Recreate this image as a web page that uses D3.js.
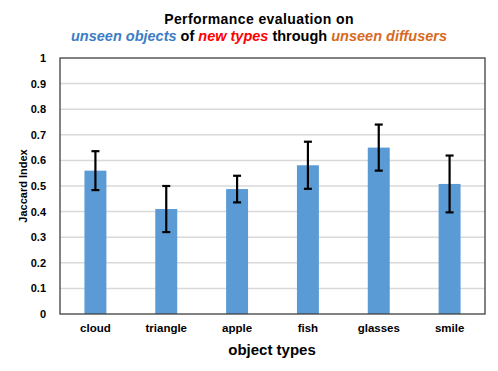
<!DOCTYPE html>
<html><head><meta charset="utf-8">
<script src="https://cdn.jsdelivr.net/npm/d3@7"></script>
<style>body{margin:0;background:#fff}svg{display:block}text{font-family:"Liberation Sans",Arial,sans-serif;font-weight:bold}</style>
</head><body>
<script>
const categories = ["cloud","triangle","apple","fish","glasses","smile"];
const values = [0.560, 0.410, 0.488, 0.581, 0.650, 0.508];
const errors = [0.076, 0.090, 0.052, 0.092, 0.090, 0.111];
const yTicks = [0,0.1,0.2,0.3,0.4,0.5,0.6,0.7,0.8,0.9,1];
const titleLine1 = "Performance evaluation on";
const titleLine2 = [["unseen objects","#3b7dc4",true],[" of ","#000",false],["new types","#ff0000",true],[" through ","#000",false],["unseen diffusers","#d86a1e",true]];

const W=498,H=371, L=60,R=485,T=58,B=314;
const svg=d3.select("body").append("svg").attr("width",W).attr("height",H);
const x=d3.scaleBand().domain(categories).range([L,R]).paddingInner(0.69).paddingOuter(0.345);
const y=d3.scaleLinear().domain([0,1]).range([B,T]);

// gridlines
svg.append("g").selectAll("line").data(yTicks.filter(d=>d>0&&d<1)).join("line")
 .attr("x1",L).attr("x2",R).attr("y1",d=>y(d)).attr("y2",d=>y(d))
 .attr("stroke","#d9d9d9").attr("stroke-width",1.5);

// bars
svg.append("g").selectAll("rect").data(categories).join("rect")
 .attr("x",d=>x(d)).attr("width",x.bandwidth())
 .attr("y",(d,i)=>y(values[i])).attr("height",(d,i)=>B-y(values[i]))
 .attr("fill","#5b9bd5");

// error bars
const eg=svg.append("g").attr("stroke","#000").attr("stroke-width",2.2);
categories.forEach((c,i)=>{
  const cx=x(c)+x.bandwidth()/2, y1=y(values[i]+errors[i]), y0=y(values[i]-errors[i]);
  eg.append("line").attr("x1",cx).attr("x2",cx).attr("y1",y1).attr("y2",y0);
  eg.append("line").attr("x1",cx-4).attr("x2",cx+4).attr("y1",y1).attr("y2",y1);
  eg.append("line").attr("x1",cx-4).attr("x2",cx+4).attr("y1",y0).attr("y2",y0);
});

// frame
svg.append("rect").attr("x",L).attr("y",T).attr("width",R-L).attr("height",B-T)
 .attr("fill","none").attr("stroke","#404040").attr("stroke-width",1.3);

// y axis
const ya=svg.append("g").attr("transform",`translate(${L},0)`)
 .call(d3.axisLeft(y).tickValues(yTicks).tickSize(0).tickPadding(14).tickFormat(d=>d3.format("")(+d.toFixed(1))));
ya.select(".domain").remove();
ya.selectAll("text").attr("font-size",11).attr("fill","#000").style("font-family","Liberation Sans, Arial").style("font-weight","bold");

// x axis
const xa=svg.append("g").attr("transform",`translate(0,${B})`).call(d3.axisBottom(x).tickSize(0).tickPadding(10));
xa.select(".domain").remove();
xa.selectAll("text").attr("font-size",11.5).attr("fill","#000").style("font-family","Liberation Sans, Arial").style("font-weight","bold");

// axis titles
svg.append("text").attr("x",272).attr("y",355).attr("text-anchor","middle").attr("font-size",15).text("object types");
svg.append("text").attr("transform",`translate(27,${(T+B)/2}) rotate(-90)`).attr("text-anchor","middle").attr("font-size",11).text("Jaccard Index");

// title
svg.append("text").attr("x",259).attr("y",24).attr("text-anchor","middle").attr("font-size",14).attr("letter-spacing",0.4).text(titleLine1);
const t2=svg.append("text").attr("x",259).attr("y",41).attr("text-anchor","middle").attr("font-size",14.5);
t2.selectAll("tspan").data(titleLine2).join("tspan").attr("fill",d=>d[1]).attr("font-style",d=>d[2]?"italic":"normal").style("white-space","pre").text(d=>d[0]);
</script>
</body></html>
